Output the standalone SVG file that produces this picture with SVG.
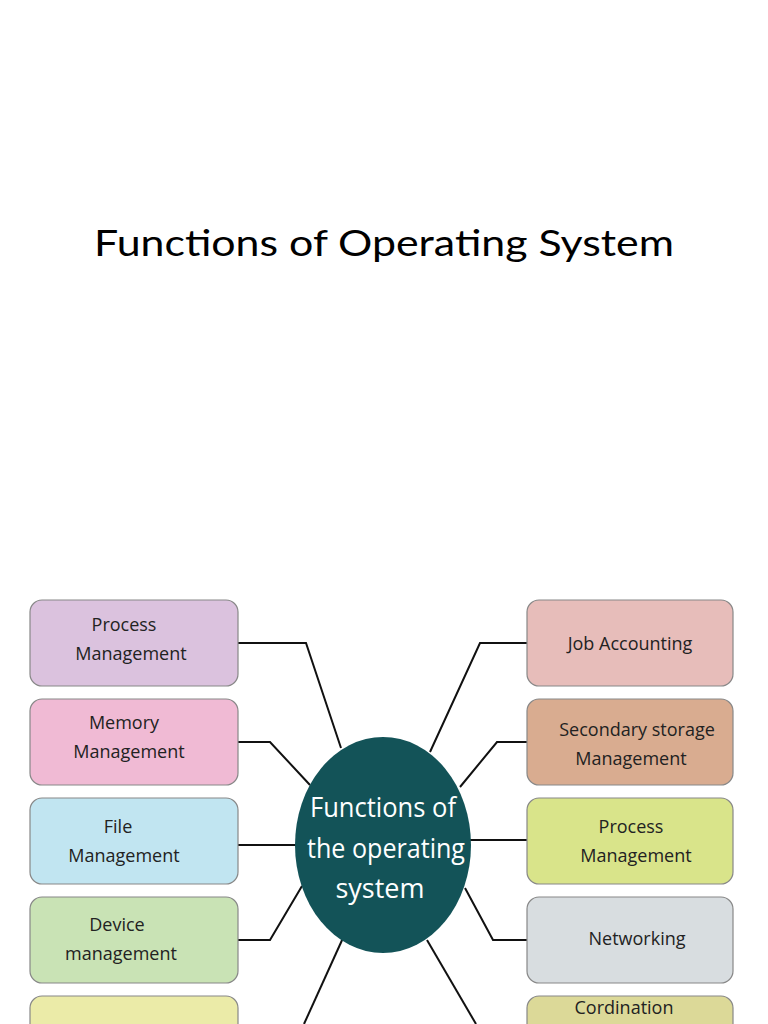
<svg xmlns="http://www.w3.org/2000/svg" width="768" height="1024" viewBox="0 0 768 1024">
<style>
.t{font-family:"Open Sans","Liberation Sans",sans-serif;font-size:18px;fill:#222;text-anchor:middle}
.b{stroke:#888;stroke-width:1.2}
.c{fill:none;stroke:#111;stroke-width:2}
</style>
<rect width="768" height="1024" fill="#fff"/>
<text x="384" y="256" font-family="Lato,'Open Sans',sans-serif" font-size="36" fill="#000" text-anchor="middle" textLength="580" lengthAdjust="spacingAndGlyphs">Functions of Operating System</text>
<g id="connectors">
<polyline class="c" points="238,643 306,643 341,748"/>
<polyline class="c" points="238,742 270,742 310,785"/>
<polyline class="c" points="238,845 298,845"/>
<polyline class="c" points="238,940 270,940 302,886"/>
<polyline class="c" points="343,938 304,1024"/>
<polyline class="c" points="527,643 480,643 430,752"/>
<polyline class="c" points="527,742 497,742 460,787"/>
<polyline class="c" points="470,840 527,840"/>
<polyline class="c" points="527,940 493,940 465,888"/>
<polyline class="c" points="427,940 476,1024"/>
</g>
<g id="center"><ellipse cx="383" cy="845" rx="88" ry="108" fill="#135358"/>
<text x="383" y="817" class="t" style="fill:#fff;font-size:27px" textLength="146" lengthAdjust="spacingAndGlyphs">Functions of</text>
<text x="386" y="858" class="t" style="fill:#fff;font-size:27px" textLength="158" lengthAdjust="spacingAndGlyphs">the operating</text>
<text x="380" y="898" class="t" style="fill:#fff;font-size:27px">system</text></g>
<g id="l1"><rect class="b" x="30" y="600" width="208" height="86" rx="12" fill="#dbc2de"/><text class="t" x="124" y="631">Process</text><text class="t" x="131" y="660">Management</text></g>
<g id="l2"><rect class="b" x="30" y="699" width="208" height="86" rx="12" fill="#f0bad4"/><text class="t" x="124" y="729">Memory</text><text class="t" x="129" y="758">Management</text></g>
<g id="l3"><rect class="b" x="30" y="798" width="208" height="86" rx="12" fill="#c1e5f1"/><text class="t" x="118" y="833">File</text><text class="t" x="124" y="862">Management</text></g>
<g id="l4"><rect class="b" x="30" y="897" width="208" height="86" rx="12" fill="#c9e3b5"/><text class="t" x="117" y="931">Device</text><text class="t" x="121" y="960">management</text></g>
<g id="l5"><rect class="b" x="30" y="996" width="208" height="60" rx="12" fill="#ebeba8"/></g>
<g id="r1"><rect class="b" x="527" y="600" width="206" height="86" rx="12" fill="#e7bdba"/><text class="t" x="630" y="650">Job Accounting</text></g>
<g id="r2"><rect class="b" x="527" y="699" width="206" height="86" rx="12" fill="#d9ac90"/><text class="t" x="637" y="736">Secondary storage</text><text class="t" x="631" y="765">Management</text></g>
<g id="r3"><rect class="b" x="527" y="798" width="206" height="86" rx="12" fill="#d9e48a"/><text class="t" x="631" y="833">Process</text><text class="t" x="636" y="862">Management</text></g>
<g id="r4"><rect class="b" x="527" y="897" width="206" height="86" rx="12" fill="#d8dde0"/><text class="t" x="637" y="945">Networking</text></g>
<g id="r5"><rect class="b" x="527" y="996" width="206" height="60" rx="12" fill="#dcd998"/><text class="t" x="624" y="1014">Cordination</text></g>
</svg>
